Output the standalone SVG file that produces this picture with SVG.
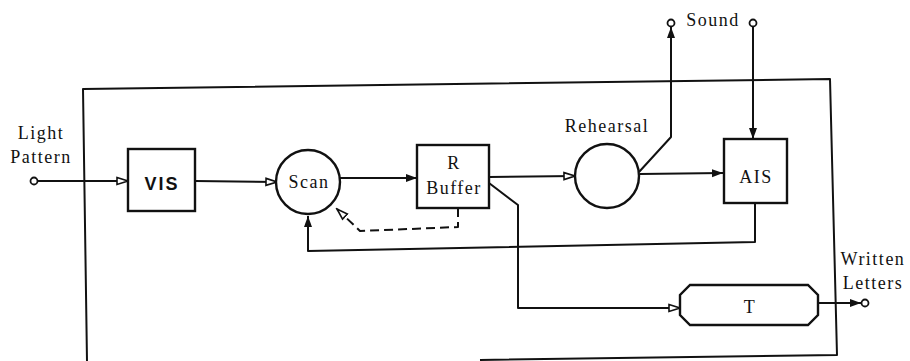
<svg xmlns="http://www.w3.org/2000/svg" width="910" height="361" viewBox="0 0 910 361">
<style>
.ln{fill:none;stroke:#111;stroke-width:2;stroke-linejoin:round}
.box{fill:#fff;stroke:#111;stroke-width:2.4}
.t{font-family:"Liberation Serif","Times New Roman",serif;font-size:18px;letter-spacing:1.5px;fill:#111;text-anchor:middle}
.b{font-family:"Liberation Sans",Arial,sans-serif;font-size:18px;font-weight:bold;letter-spacing:2px;fill:#111;text-anchor:middle}
.term{fill:#fff;stroke:#111;stroke-width:1.8}
</style>
<defs>
<marker id="af" markerWidth="12" markerHeight="10" refX="11" refY="5" orient="auto" markerUnits="userSpaceOnUse">
<path d="M0,1 L11,5 L0,9 Z" fill="#111"/>
</marker>
<marker id="ao" markerWidth="14" markerHeight="10" refX="12" refY="5" orient="auto" markerUnits="userSpaceOnUse">
<path d="M1,1.5 L12,5 L1,8.5 Z" fill="#fff" stroke="#111" stroke-width="1.6"/>
</marker>
</defs>
<g id="frame">
<polyline class="ln" points="87,361 83,89 830,79 837,355 480,360"/>
</g>
<g id="connectors">
<line class="ln" x1="37" y1="181" x2="128" y2="181" marker-end="url(#ao)"/>
<line class="ln" x1="195" y1="181" x2="277" y2="182" marker-end="url(#ao)"/>
<line class="ln" x1="340" y1="178" x2="417" y2="178" marker-end="url(#af)"/>
<polyline class="ln" points="458,208 458,227 360,231 337,209" stroke-dasharray="9,5" marker-end="url(#ao)"/>
<polyline class="ln" points="755,203 755,242 308,251 308,216" marker-end="url(#af)"/>
<line class="ln" x1="489" y1="177" x2="575" y2="176" marker-end="url(#ao)"/>
<polyline class="ln" points="489,183 518,205 518,308 680,308" marker-end="url(#ao)"/>
<line class="ln" x1="640" y1="174" x2="723" y2="173" marker-end="url(#af)"/>
<polyline class="ln" points="639,172 671,137 671,27" marker-end="url(#af)"/>
<line class="ln" x1="753" y1="27" x2="753" y2="139" marker-end="url(#af)"/>
<line class="ln" x1="818" y1="303" x2="861" y2="303" marker-end="url(#af)"/>
</g>
<g id="light-pattern">
<circle class="term" cx="34" cy="181" r="3.5"/>
<text class="t" x="41" y="139">Light</text>
<text class="t" x="41" y="163">Pattern</text>
</g>
<g id="vis">
<rect class="box" x="128" y="149" width="67" height="62"/>
<text class="b" x="162" y="190">VIS</text>
</g>
<g id="scan">
<circle class="box" cx="308" cy="182" r="32"/>
<text class="t" x="309" y="188">Scan</text>
</g>
<g id="r-buffer">
<rect class="box" x="417" y="145" width="72" height="63"/>
<text class="t" x="454" y="169">R</text>
<text class="t" x="454" y="194">Buffer</text>
</g>
<g id="rehearsal">
<circle class="box" cx="607" cy="176" r="32"/>
<text class="t" x="607" y="132">Rehearsal</text>
</g>
<g id="sound">
<circle class="term" cx="671" cy="23" r="3.5"/>
<circle class="term" cx="753" cy="23" r="3.5"/>
<text class="t" x="713" y="26">Sound</text>
</g>
<g id="ais">
<rect class="box" x="724" y="139" width="63" height="64"/>
<text class="t" x="756" y="183">AIS</text>
</g>
<g id="t">
<path class="box" d="M690,285 L808,285 L818,295 L818,315 L808,325 L690,325 L680,315 L680,295 Z"/>
<text class="t" x="750" y="313">T</text>
</g>
<g id="written-letters">
<circle class="term" cx="865" cy="303" r="3.5"/>
<text class="t" x="873" y="265">Written</text>
<text class="t" x="873" y="289">Letters</text>
</g>
</svg>
